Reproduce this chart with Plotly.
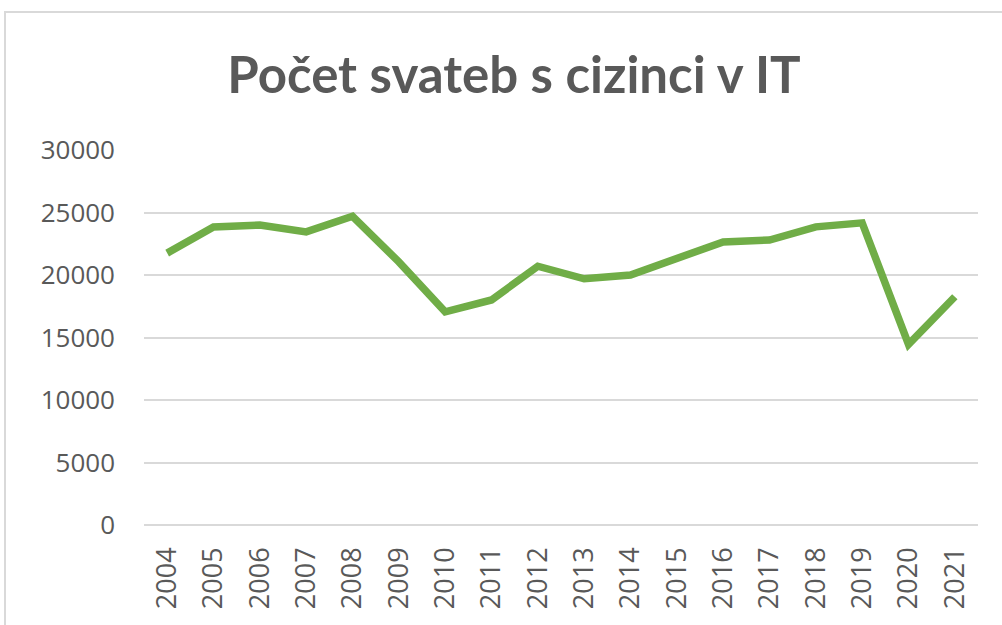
import plotly.graph_objects as go

years = [str(y) for y in range(2004, 2022)]
weddings = [21750, 23850, 24000, 23450, 24700, 21050, 17050, 18000, 20700,
            19700, 20000, 21300, 22650, 22800, 23850, 24170, 14450, 18260]
y_ticks = [0, 5000, 10000, 15000, 20000, 25000, 30000]
title_text = "Počet svateb s cizinci v IT"

W, H = 1002, 625
L, R, T, B = 144, 24, 150, 100
pw, ph = W - L - R, H - T - B

fig = go.Figure()
fig.add_trace(go.Scatter(
    x=years, y=weddings, mode="lines",
    line=dict(color="#70ad47", width=7.5, shape="linear"),
    hoverinfo="x+y", showlegend=False,
))

# outer chart frame (partially outside the image, like the screenshot)
fig.add_shape(type="rect", xref="paper", yref="paper",
              x0=(5 - L) / pw, x1=1.2, y0=-0.6, y1=(H - B - 12) / ph,
              line=dict(color="#d9d9d9", width=2), fillcolor="rgba(0,0,0,0)",
              layer="below")

fig.update_layout(
    width=W, height=H,
    margin=dict(l=L, r=R, t=T, b=B, autoexpand=False),
    paper_bgcolor="white", plot_bgcolor="white",
    title=dict(text=title_text, x=514 / W, xanchor="center",
               y=1 - 75 / H, yanchor="middle", automargin=False,
               font=dict(family="Lato", size=51, color="#595959", weight="bold")),
    xaxis=dict(type="category", range=[-0.5, len(years) - 0.5], automargin=False,
               showgrid=False, showline=False, zeroline=False,
               tickangle=-90, ticks="", ticklabelstandoff=16,
               tickfont=dict(family="Open Sans", size=27, color="#595959")),
    yaxis=dict(range=[0, 30000], tickvals=y_ticks, ticktext=[str(v) for v in y_ticks],
               automargin=False,
               showgrid=True, gridcolor="#d9d9d9", gridwidth=2,
               zeroline=True, zerolinecolor="#d9d9d9", zerolinewidth=2,
               showline=False, ticks="", ticklabelstandoff=28,
               tickfont=dict(family="Open Sans", size=26, color="#595959")),
)

fig.write_html("out.html", config={"displayModeBar": False},
               post_script="document.body.style.margin='0';document.body.style.overflow='hidden';")
